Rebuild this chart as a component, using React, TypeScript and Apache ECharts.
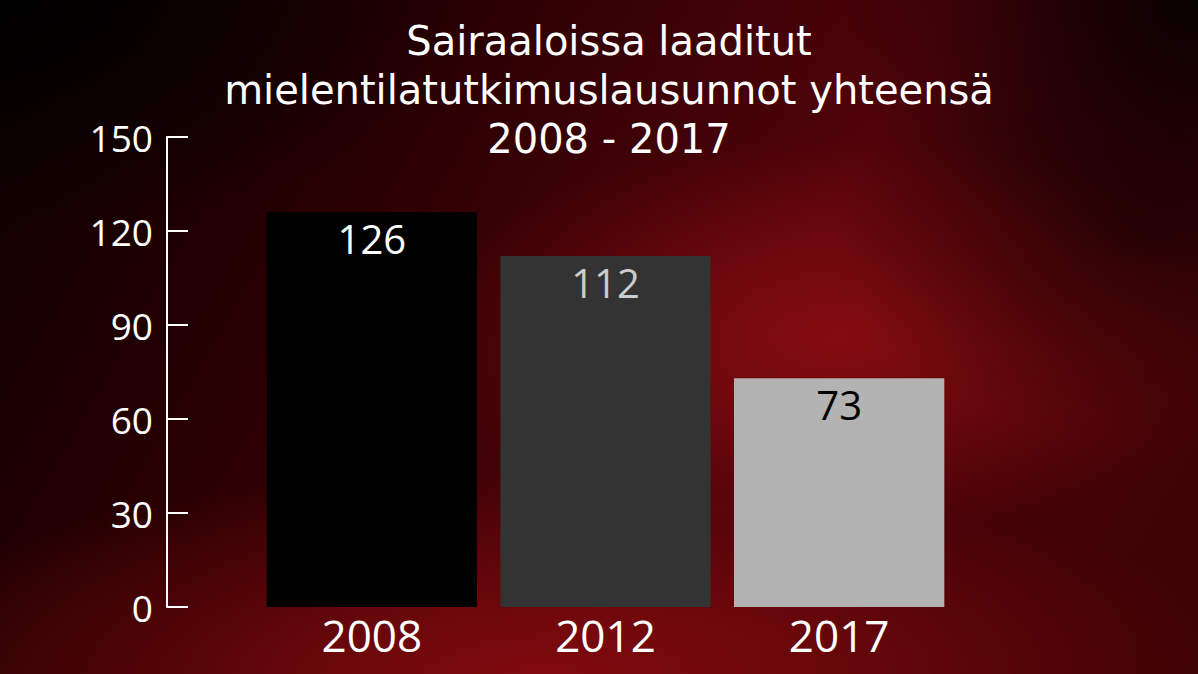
import React, { useEffect, useRef } from "react";
import * as echarts from "echarts";

const categories = ["2008", "2012", "2017"];
const values = [126, 112, 73];
const barColors = ["#000000", "#333333", "#b3b3b3"];
const labelColors = ["#ffffff", "#cccccc", "#000000"];
const titleLines = ["Sairaaloissa laaditut", "mielentilatutkimuslausunnot yhteensä", "2008 - 2017"];

export default function App() {
  const ref = useRef<HTMLDivElement>(null);
  useEffect(() => {
    if (!ref.current) return;
    const chart = echarts.init(ref.current, undefined, { renderer: "svg" });
    const font = "'Open Sans', 'Noto Sans', sans-serif";
    const titleFont = "'DejaVu Sans', sans-serif";
    chart.setOption({
      animation: false,
      backgroundColor: "transparent",
      textStyle: { fontFamily: font },
      title: titleLines.map((t, i) => ({
        text: t,
        left: 609,
        textAlign: "center",
        top: 18 + i * 49,
        padding: 0,
        textStyle: { color: "#ffffff", fontSize: 40, fontWeight: "normal", lineHeight: 46, fontFamily: titleFont },
      })),
      grid: { left: 255, right: 242, top: 137, bottom: 67 },
      xAxis: {
        type: "category",
        data: categories,
        axisLine: { show: false },
        axisTick: { show: false },
        axisLabel: { color: "#ffffff", fontSize: 44, margin: 6, fontFamily: font },
      },
      yAxis: {
        type: "value",
        min: 0,
        max: 150,
        interval: 30,
        offset: 88,
        splitLine: { show: false },
        axisLine: { show: true, lineStyle: { color: "#ffffff", width: 2 } },
        axisTick: { show: true, inside: true, length: 21, lineStyle: { color: "#ffffff", width: 2 } },
        axisLabel: { color: "#ffffff", fontSize: 37, margin: 14, fontFamily: font },
      },
      series: [
        {
          type: "bar",
          barCategoryGap: "10%",
          data: values.map((v, i) => ({
            value: v,
            itemStyle: { color: barColors[i] },
            label: { color: labelColors[i] },
          })),
          label: {
            show: true,
            position: "insideTop",
            distance: 6,
            fontSize: 40,
            fontFamily: font,
          },
        },
      ],
    });
    return () => chart.dispose();
  }, []);
  return (
    <div
      style={{
        position: "fixed",
        left: 0,
        top: 0,
        width: 1198,
        height: 674,
        background:
          "radial-gradient(ellipse 40% 35% at 0% 0%, rgba(0,0,0,0.95), rgba(0,0,0,0) 100%)," +
          "radial-gradient(ellipse 30% 40% at 100% 0%, rgba(0,0,0,0.9), rgba(0,0,0,0) 100%)," +
          "radial-gradient(ellipse 25% 30% at 95% 35%, rgba(20,0,0,0.6), rgba(20,0,0,0) 100%)," +
          "radial-gradient(ellipse 35% 30% at 70% 50%, rgba(150,15,18,0.75), rgba(150,15,18,0) 100%)," +
          "radial-gradient(ellipse 60% 30% at 45% 100%, rgba(140,12,14,0.8), rgba(140,12,14,0) 100%)," +
          "linear-gradient(120deg, #0a0000 0%, #2a0002 30%, #50030a 60%, #3a0204 100%)",
      }}
    >
      <div ref={ref} style={{ width: 1198, height: 674 }} />
    </div>
  );
}
